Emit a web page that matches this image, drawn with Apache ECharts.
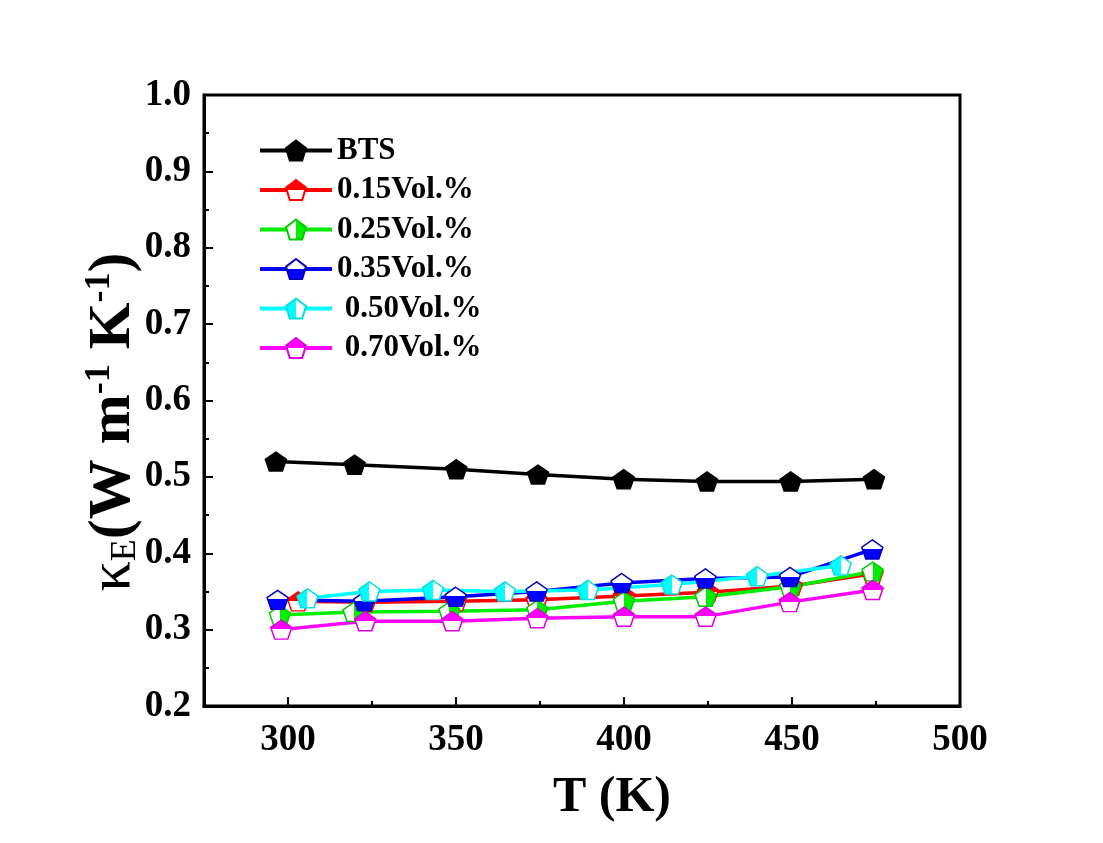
<!DOCTYPE html>
<html>
<head>
<meta charset="utf-8">
<script src="https://cdn.jsdelivr.net/npm/echarts@6/dist/echarts.min.js"></script>
<style>
  html, body { margin: 0; padding: 0; background: #fff; }
  #chart { width: 1103px; height: 843px; }
</style>
</head>
<body>
<div id="chart"></div>
<script>
// Electronic thermal conductivity vs temperature for BTS and its composites
const seriesNames = ['BTS', '0.15Vol.%', '0.25Vol.%', '0.35Vol.%', ' 0.50Vol.%', ' 0.70Vol.%'];

const T_BTS = [296.4, 319.8, 350.1, 374.4, 399.9, 424.7, 449.6, 474.4];
const k_BTS = [0.520, 0.516, 0.510, 0.503, 0.497, 0.494, 0.494, 0.497];

const T_015 = [303.0, 323.0, 350.0, 374.0, 400.0, 425.0, 450.0, 474.0];
const k_015 = [0.337, 0.336, 0.337, 0.339, 0.344, 0.349, 0.357, 0.373];

const T_025 = [297.6, 319.5, 348.0, 374.2, 400.0, 424.3, 449.5, 474.0];
const k_025 = [0.319, 0.323, 0.324, 0.326, 0.337, 0.343, 0.356, 0.376];

const T_035 = [296.9, 322.7, 349.9, 374.0, 399.3, 424.2, 449.4, 473.9];
const k_035 = [0.339, 0.337, 0.343, 0.350, 0.361, 0.367, 0.369, 0.405];

const T_050 = [305.8, 324.2, 343.1, 364.5, 389.2, 414.2, 439.6, 464.5];
const k_050 = [0.341, 0.350, 0.352, 0.350, 0.352, 0.359, 0.370, 0.384];

const T_070 = [298.0, 323.0, 348.9, 374.2, 400.0, 424.3, 449.3, 474.0];
const k_070 = [0.300, 0.311, 0.311, 0.315, 0.317, 0.317, 0.336, 0.352];

const xMajorTicks = [300, 350, 400, 450, 500];
const xMinorTicks = [325, 375, 425, 475];

const FONT = '"Liberation Serif", "Times New Roman", serif';
const PENTAGON = 'path://M50,0 L97.55,34.55 L79.39,90.45 L20.61,90.45 L2.45,34.55 Z';

// Half-filled marker: solid colour on one side, white on the other
function halfFill(color, side) {
  const s = 0.48;
  if (side === 'full') return color;
  if (side === 'top') return new echarts.graphic.LinearGradient(0, 0, 0, 1, [
    { offset: 0, color: color }, { offset: s, color: color },
    { offset: s, color: '#fff' }, { offset: 1, color: '#fff' }]);
  if (side === 'bottom') return new echarts.graphic.LinearGradient(0, 0, 0, 1, [
    { offset: 0, color: '#fff' }, { offset: s, color: '#fff' },
    { offset: s, color: color }, { offset: 1, color: color }]);
  if (side === 'left') return new echarts.graphic.LinearGradient(0, 0, 1, 0, [
    { offset: 0, color: color }, { offset: 0.5, color: color },
    { offset: 0.5, color: '#fff' }, { offset: 1, color: '#fff' }]);
  return new echarts.graphic.LinearGradient(0, 0, 1, 0, [
    { offset: 0, color: '#fff' }, { offset: 0.5, color: '#fff' },
    { offset: 0.5, color: color }, { offset: 1, color: color }]);
}

function pairs(xs, ys) { return xs.map((x, i) => [x, ys[i]]); }

function makeSeries(name, xs, ys, color, border, side) {
  return {
    name: name,
    type: 'line',
    data: pairs(xs, ys),
    symbol: PENTAGON,
    symbolSize: [21, 20],
    symbolKeepAspect: true,
    lineStyle: { color: color, width: 3.5 },
    itemStyle: { color: halfFill(color, side), borderColor: border, borderWidth: 1.5 },
    emphasis: { disabled: true },
    animation: false
  };
}

const series = [
  makeSeries(seriesNames[0], T_BTS, k_BTS, '#000000', '#000000', 'full'),
  makeSeries(seriesNames[1], T_015, k_015, '#ff0000', '#ff0000', 'top'),
  makeSeries(seriesNames[2], T_025, k_025, '#00ee00', '#00cc00', 'right'),
  makeSeries(seriesNames[3], T_035, k_035, '#0000ff', '#0000c0', 'bottom'),
  makeSeries(seriesNames[4], T_050, k_050, '#00ffff', '#00e0e0', 'left'),
  makeSeries(seriesNames[5], T_070, k_070, '#ff00ff', '#e000e0', 'top')
];

const chart = echarts.init(document.getElementById('chart'), null, { renderer: 'canvas' });

chart.setOption({
  backgroundColor: '#ffffff',
  animation: false,
  grid: {
    left: 204, right: 143, top: 95, bottom: 137,
    show: true, borderColor: '#000', borderWidth: 3, backgroundColor: 'transparent'
  },
  legend: {
    data: seriesNames,
    orient: 'vertical',
    left: 258, top: 135,
    padding: 0,
    itemWidth: 72, itemHeight: 25,
    itemGap: 8.5,
    selectedMode: false,
    lineStyle: { width: 4 },
    textStyle: { fontFamily: FONT, fontWeight: 'bold', fontSize: 31, lineHeight: 30.5, color: '#000' }
  },
  xAxis: [{
    type: 'value', min: 275, max: 500,
    axisLine: { show: true, lineStyle: { color: '#000', width: 3 } },
    axisTick: { show: true, inside: true, length: 9, lineStyle: { width: 2, color: '#000' }, customValues: xMajorTicks },
    axisLabel: { customValues: xMajorTicks, margin: 16, fontFamily: FONT, fontWeight: 'bold', fontSize: 37, color: '#000' },
    splitLine: { show: false }
  }, {
    type: 'value', min: 275, max: 500, position: 'bottom', gridIndex: 0,
    axisLine: { show: false },
    axisTick: { show: true, inside: true, length: 5, lineStyle: { width: 2, color: '#000' }, customValues: xMinorTicks },
    axisLabel: { show: false },
    splitLine: { show: false }
  }],
  yAxis: {
    type: 'value', min: 0.2, max: 1.0, interval: 0.1,
    axisLine: { show: true, lineStyle: { color: '#000', width: 3 } },
    axisTick: { show: true, inside: true, length: 9, lineStyle: { width: 2, color: '#000' } },
    minorTick: { show: true, splitNumber: 2, length: 5, lineStyle: { width: 2, color: '#000' } },
    axisLabel: {
      margin: 13, fontFamily: FONT, fontWeight: 'bold', fontSize: 37, color: '#000',
      formatter: v => v.toFixed(1)
    },
    splitLine: { show: false }
  },
  graphic: [{
    type: 'text',
    x: 612, y: 798,
    style: {
      text: 'T (K)', fontFamily: FONT, fontWeight: 'bold', fontSize: 50, fill: '#000',
      align: 'center', verticalAlign: 'middle'
    }
  }, {
    type: 'text',
    x: 113, y: 422,
    rotation: Math.PI / 2,
    style: {
      text: '{k|κ}{sub|E}{b|(W m}{sup|-1}{b| K}{sup|-1}{b|)}',
      align: 'center', verticalAlign: 'middle', fill: '#000',
      rich: {
        k: { fontFamily: FONT, fontSize: 60, lineHeight: 62, fill: '#000' },
        sub: { fontFamily: FONT, fontSize: 36, lineHeight: 62, verticalAlign: 'bottom', fill: '#000' },
        b: { fontFamily: FONT, fontWeight: 'bold', fontSize: 60, lineHeight: 62, fill: '#000' },
        sup: { fontFamily: FONT, fontWeight: 'bold', fontSize: 36, lineHeight: 62, verticalAlign: 'top', fill: '#000' }
      }
    }
  }],
  series: series
});
</script>
</body>
</html>
